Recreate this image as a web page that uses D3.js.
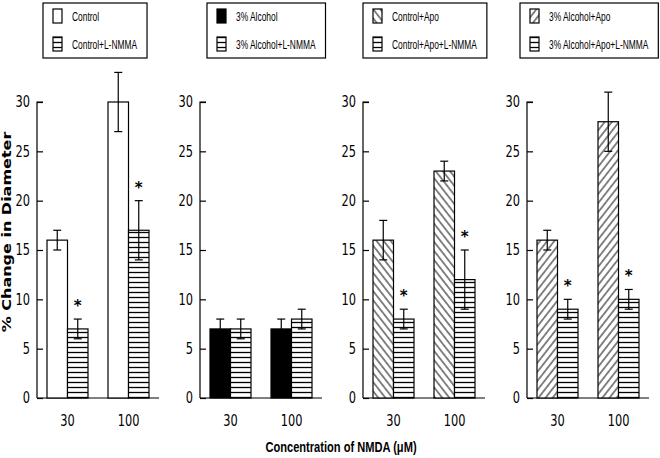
<!DOCTYPE html>
<html>
<head>
<meta charset="utf-8">
<script src="https://cdn.jsdelivr.net/npm/d3@7"></script>
<style>
  html, body { margin: 0; padding: 0; background: #fff; }
  svg { display: block; }
</style>
</head>
<body>
<svg id="chart" width="660" height="458"></svg>
<script>
// ---------- data ----------
const doses = ["30", "100"];
const baseLabels = ["Control", "3% Alcohol", "Control+Apo", "3% Alcohol+Apo"];
const nmmaLabels = ["Control+L-NMMA", "3% Alcohol+L-NMMA", "Control+Apo+L-NMMA", "3% Alcohol+Apo+L-NMMA"];
const baseValues = [[16, 30], [7, 7], [16, 23], [16, 28]];
const baseErrors = [[1, 3], [1, 1], [2, 1], [1, 3]];
const nmmaValues = [[7, 17], [7, 8], [8, 12], [9, 10]];
const nmmaErrors = [[1, 3], [1, 1], [1, 3], [1, 1]];
const nmmaSignificant = [[true, true], [false, false], [true, true], [true, true]];
const yTicks = [0, 5, 10, 15, 20, 25, 30];
const xTitle = "Concentration of NMDA (\u03BCM)";
const yTitle = "% Change in Diameter";

// ---------- layout ----------
const svg = d3.select("#chart");
const dvs = "'DejaVu Sans', sans-serif";
const lib = "'Liberation Sans', Arial, sans-serif";
const panelLeft = [37, 200, 363, 527];
const panelWidth = 122;
const legendLeft = [43, 207, 363, 520];
const tickScale = 0.76, legendScale = 0.70;

const y = d3.scaleLinear().domain([0, 30]).range([398, 102]);

// patterns
const defs = svg.append("defs");
function hPattern(id) {
  const p = defs.append("pattern").attr("id", id).attr("patternUnits", "userSpaceOnUse")
    .attr("width", 8).attr("height", 5);
  p.append("rect").attr("width", 8).attr("height", 5).attr("fill", "#fff");
  p.append("line").attr("x1", 0).attr("x2", 8).attr("y1", 2.5).attr("y2", 2.5)
    .attr("stroke", "#000").attr("stroke-width", 1.3);
}
function dPattern(id, dir) {
  const s = 5.6;
  const p = defs.append("pattern").attr("id", id).attr("patternUnits", "userSpaceOnUse")
    .attr("width", s).attr("height", s)
    .attr("patternTransform", `rotate(${dir > 0 ? 38 : -38})`);
  p.append("rect").attr("width", s).attr("height", s).attr("fill", "#fff");
  p.append("line").attr("x1", s / 2).attr("x2", s / 2).attr("y1", 0).attr("y2", s)
    .attr("stroke", "#000").attr("stroke-width", 0.95);
}
hPattern("hstripe");
dPattern("diagBack", -1);   // "\" direction
dPattern("diagFwd", 1);     // "/" direction
const baseFills = ["#fff", "#000", "url(#diagBack)", "url(#diagFwd)"];
const nmmaFill = "url(#hstripe)";

const legendBoxes = [];

for (let i = 0; i < 4; i++) {
  const a = panelLeft[i];
  const g = svg.append("g");
  const x0 = d3.scaleBand().domain(doses).range([a + 10, a + 112]).paddingInner(0.328).paddingOuter(0);
  const x1 = d3.scaleBand().domain([0, 1]).range([0, x0.bandwidth()]);

  // axes
  const yAxis = d3.axisRight(y).tickValues(yTicks).tickSize(6).tickFormat(d3.format("d"));
  const ya = g.append("g").attr("transform", `translate(${a},0)`).call(yAxis);
  ya.select(".domain").attr("d", `M6,${y(30)}H0V${y(0)}`).attr("stroke-width", 1.2);
  ya.selectAll(".tick line").attr("stroke-width", 1.2);
  ya.selectAll(".tick text").attr("x", -7 / tickScale).attr("text-anchor", "end")
    .attr("transform", `scale(${tickScale},1)`)
    .attr("font-family", dvs).attr("font-size", 15).attr("fill", "#000");

  const xAxis = d3.axisBottom(x0).tickSize(0).tickPadding(17);
  const xa = g.append("g").attr("transform", `translate(0,${y(0)})`).call(xAxis);
  xa.select(".domain").attr("d", `M${a},0H${a + panelWidth}`).attr("stroke-width", 1.2);
  xa.selectAll(".tick text").attr("transform", `scale(${tickScale},1)`)
    .attr("font-family", dvs).attr("font-size", 15).attr("fill", "#000");

  const series = [
    { vals: baseValues[i], errs: baseErrors[i], fill: baseFills[i], k: 0 },
    { vals: nmmaValues[i], errs: nmmaErrors[i], fill: nmmaFill, k: 1 }
  ];
  series.forEach(s => {
    doses.forEach((d, j) => {
      const bx = x0(d) + x1(s.k);
      const bw = x1.bandwidth();
      g.append("rect").attr("x", bx).attr("y", y(s.vals[j]))
        .attr("width", bw).attr("height", y(0) - y(s.vals[j]))
        .attr("fill", s.fill).attr("stroke", "#000").attr("stroke-width", 1.2);
      const cx = bx + bw / 2;
      const hi = y(s.vals[j] + s.errs[j]), lo = y(s.vals[j] - s.errs[j]);
      g.append("line").attr("x1", cx).attr("x2", cx).attr("y1", hi).attr("y2", lo)
        .attr("stroke", "#000").attr("stroke-width", 1.2);
      [hi, lo].forEach(yy => g.append("line").attr("x1", cx - 4).attr("x2", cx + 4)
        .attr("y1", yy).attr("y2", yy).attr("stroke", "#000").attr("stroke-width", 1.2));
      if (s.k === 1 && nmmaSignificant[i][j]) {
        g.append("text").attr("x", cx).attr("y", hi - 8).attr("text-anchor", "middle")
          .attr("font-family", dvs).attr("font-weight", "bold")
          .attr("font-size", 15).text("*");
      }
    });
  });

  // legend
  const L = legendLeft[i];
  const lg = svg.append("g");
  const box = lg.append("rect").attr("x", L).attr("y", 3).attr("height", 55)
    .attr("fill", "#fff").attr("stroke", "#000").attr("stroke-width", 1.2);
  const items = [{ label: baseLabels[i], fill: baseFills[i] }, { label: nmmaLabels[i], fill: nmmaFill }];
  const texts = [];
  items.forEach((it, r) => {
    const cy = 16 + r * 28;
    lg.append("rect").attr("x", L + 10).attr("y", cy - 7).attr("width", 9).attr("height", 14)
      .attr("fill", it.fill).attr("stroke", "#000").attr("stroke-width", 1.2);
    const t = lg.append("text")
      .attr("transform", `translate(${L + 29},${cy + 4.5}) scale(${legendScale},1)`)
      .attr("font-family", lib).attr("font-size", 12).attr("fill", "#000").text(it.label);
    texts.push(t);
  });
  legendBoxes.push({ box, texts });
}

function sizeBoxes() {
  legendBoxes.forEach(({ box, texts }) => {
    const w = d3.max(texts, t => t.node().getComputedTextLength()) * legendScale;
    box.attr("width", 29 + w + 10);
  });
}
sizeBoxes();
if (document.fonts && document.fonts.ready) document.fonts.ready.then(sizeBoxes);

// titles
svg.append("text").attr("transform", "translate(341,452) scale(0.74,1)").attr("text-anchor", "middle")
  .attr("font-family", lib).attr("font-weight", "bold").attr("font-size", 15).text(xTitle);
svg.append("text").attr("transform", "translate(11,232) rotate(-90) scale(1.28,1)").attr("text-anchor", "middle")
  .attr("font-family", dvs).attr("font-weight", "bold").attr("font-size", 12.5)
  .text(yTitle);
</script>
</body>
</html>
